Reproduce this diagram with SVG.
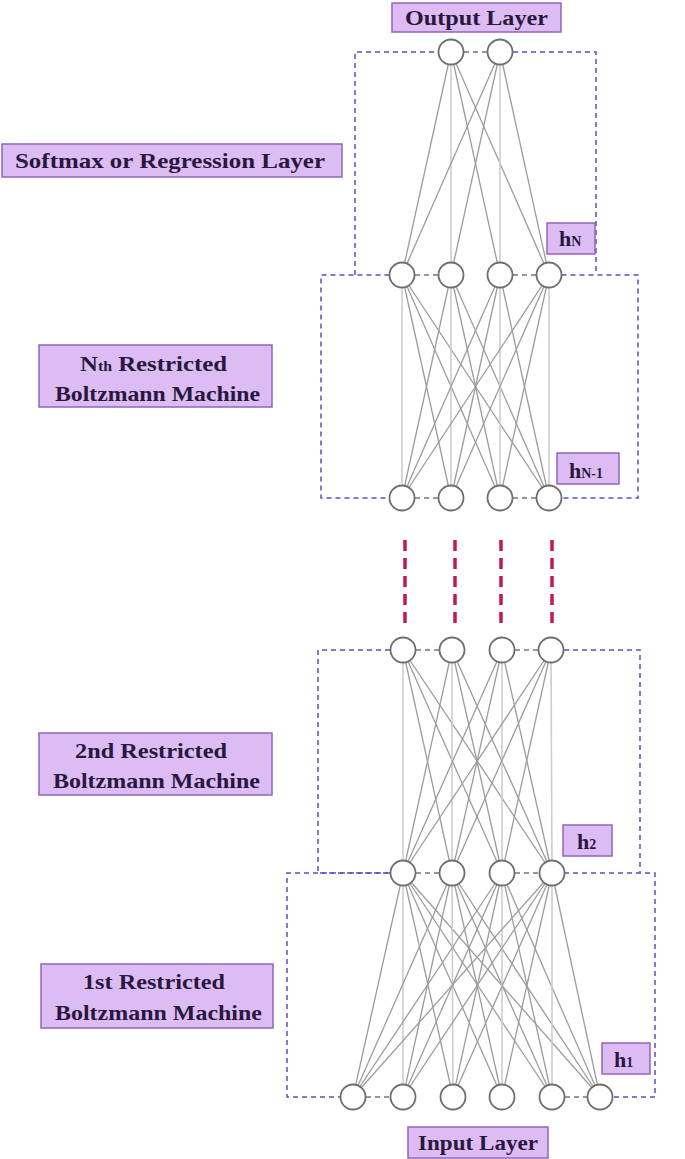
<svg xmlns="http://www.w3.org/2000/svg" width="685" height="1159" viewBox="0 0 685 1159">
<style>
.bg{fill:#ffffff}
.e{stroke:#9c9c9c;stroke-width:1.3;fill:none}
.v{stroke:#cdcdcd;stroke-width:1.6;fill:none}
.nd{fill:#ffffff;stroke:#6e6e6e;stroke-width:1.8}
.nl{stroke:#777777;stroke-width:1.3;stroke-dasharray:5,4;fill:none}
.bx{stroke:#5a4fc4;stroke-width:1.5;stroke-dasharray:5,4;fill:none}
.gap{stroke:#c2185b;stroke-width:3.5;stroke-dasharray:11,7;fill:none}
.lb{fill:#dcbcf3;stroke:#9265bb;stroke-width:1.5}
.t{font-family:"Liberation Serif","Times New Roman",serif;font-weight:bold;fill:#2a1740;font-size:22px}
.s{font-size:14px}
</style>
<rect class="bg" x="0" y="0" width="685" height="1159"/>

<g id="boxes">
<path class="bx" d="M355,275 V52 H438 M513,52 H596 V275"/>
<path class="bx" d="M389.5,275 H321 V498 H389.5 M561.5,275 H638 V498 H561.5"/>
<path class="bx" d="M390,650 H318 V873 H390 M564,650 H640 V873"/>
<path class="bx" d="M390,873 H287 V1097 H340.5 M564,873 H655 V1097 H612.5"/>
</g>

<g id="connectors">
<!-- output -> hN -->
<line class="e" x1="451" y1="52" x2="402" y2="275"/>
<line class="v" x1="451" y1="52" x2="451" y2="275"/>
<line class="e" x1="451" y1="52" x2="500" y2="275"/>
<line class="e" x1="451" y1="52" x2="549" y2="275"/>
<line class="e" x1="500" y1="52" x2="402" y2="275"/>
<line class="e" x1="500" y1="52" x2="451" y2="275"/>
<line class="v" x1="500" y1="52" x2="500" y2="275"/>
<line class="e" x1="500" y1="52" x2="549" y2="275"/>
<!-- hN -> hN-1 -->
<line class="v" x1="402" y1="275" x2="402" y2="498"/>
<line class="e" x1="402" y1="275" x2="451" y2="498"/>
<line class="e" x1="402" y1="275" x2="500" y2="498"/>
<line class="e" x1="402" y1="275" x2="549" y2="498"/>
<line class="e" x1="451" y1="275" x2="402" y2="498"/>
<line class="v" x1="451" y1="275" x2="451" y2="498"/>
<line class="e" x1="451" y1="275" x2="500" y2="498"/>
<line class="e" x1="451" y1="275" x2="549" y2="498"/>
<line class="e" x1="500" y1="275" x2="402" y2="498"/>
<line class="e" x1="500" y1="275" x2="451" y2="498"/>
<line class="v" x1="500" y1="275" x2="500" y2="498"/>
<line class="e" x1="500" y1="275" x2="549" y2="498"/>
<line class="e" x1="549" y1="275" x2="402" y2="498"/>
<line class="e" x1="549" y1="275" x2="451" y2="498"/>
<line class="e" x1="549" y1="275" x2="500" y2="498"/>
<line class="v" x1="549" y1="275" x2="549" y2="498"/>
<!-- gap -->
<line class="gap" x1="405" y1="540" x2="405" y2="624"/>
<line class="gap" x1="455" y1="540" x2="455" y2="624"/>
<line class="gap" x1="501" y1="540" x2="501" y2="624"/>
<line class="gap" x1="552" y1="540" x2="552" y2="624"/>
<!-- h3 -> h2 -->
<line class="v" x1="403" y1="650" x2="403" y2="873"/>
<line class="e" x1="403" y1="650" x2="452" y2="873"/>
<line class="e" x1="403" y1="650" x2="502" y2="873"/>
<line class="e" x1="403" y1="650" x2="552" y2="873"/>
<line class="e" x1="452" y1="650" x2="403" y2="873"/>
<line class="v" x1="452" y1="650" x2="452" y2="873"/>
<line class="e" x1="452" y1="650" x2="502" y2="873"/>
<line class="e" x1="452" y1="650" x2="552" y2="873"/>
<line class="e" x1="502" y1="650" x2="403" y2="873"/>
<line class="e" x1="502" y1="650" x2="452" y2="873"/>
<line class="v" x1="502" y1="650" x2="502" y2="873"/>
<line class="e" x1="502" y1="650" x2="552" y2="873"/>
<line class="e" x1="551" y1="650" x2="403" y2="873"/>
<line class="e" x1="551" y1="650" x2="452" y2="873"/>
<line class="e" x1="551" y1="650" x2="502" y2="873"/>
<line class="v" x1="551" y1="650" x2="552" y2="873"/>
<!-- h2 -> input -->
<line class="e" x1="403" y1="873" x2="353" y2="1097"/>
<line class="v" x1="403" y1="873" x2="403" y2="1097"/>
<line class="e" x1="403" y1="873" x2="453" y2="1097"/>
<line class="e" x1="403" y1="873" x2="502" y2="1097"/>
<line class="e" x1="403" y1="873" x2="552" y2="1097"/>
<line class="e" x1="403" y1="873" x2="600" y2="1097"/>
<line class="e" x1="452" y1="873" x2="353" y2="1097"/>
<line class="e" x1="452" y1="873" x2="403" y2="1097"/>
<line class="v" x1="452" y1="873" x2="453" y2="1097"/>
<line class="e" x1="452" y1="873" x2="502" y2="1097"/>
<line class="e" x1="452" y1="873" x2="552" y2="1097"/>
<line class="e" x1="452" y1="873" x2="600" y2="1097"/>
<line class="e" x1="502" y1="873" x2="353" y2="1097"/>
<line class="e" x1="502" y1="873" x2="403" y2="1097"/>
<line class="e" x1="502" y1="873" x2="453" y2="1097"/>
<line class="v" x1="502" y1="873" x2="502" y2="1097"/>
<line class="e" x1="502" y1="873" x2="552" y2="1097"/>
<line class="e" x1="502" y1="873" x2="600" y2="1097"/>
<line class="e" x1="552" y1="873" x2="353" y2="1097"/>
<line class="e" x1="552" y1="873" x2="403" y2="1097"/>
<line class="e" x1="552" y1="873" x2="453" y2="1097"/>
<line class="e" x1="552" y1="873" x2="502" y2="1097"/>
<line class="v" x1="552" y1="873" x2="552" y2="1097"/>
<line class="e" x1="552" y1="873" x2="600" y2="1097"/>
<!-- in-layer dashes -->
<line class="nl" x1="464" y1="52" x2="487" y2="52"/>
<line class="nl" x1="415" y1="275" x2="438" y2="275"/>
<line class="nl" x1="513" y1="275" x2="536" y2="275"/>
<line class="nl" x1="415" y1="498" x2="438" y2="498"/>
<line class="nl" x1="513" y1="498" x2="536" y2="498"/>
<line class="nl" x1="416" y1="650" x2="439" y2="650"/>
<line class="nl" x1="515" y1="650" x2="538" y2="650"/>
<line class="nl" x1="416" y1="873" x2="439" y2="873"/>
<line class="nl" x1="515" y1="873" x2="539" y2="873"/>
<line class="nl" x1="366" y1="1097" x2="390" y2="1097"/>
<line class="nl" x1="565" y1="1097" x2="587" y2="1097"/>
</g>

<g id="output-layer">
<circle class="nd" cx="451" cy="52" r="12.5"/>
<circle class="nd" cx="500" cy="52" r="12.5"/>
</g>
<g id="hN-layer">
<circle class="nd" cx="402" cy="275" r="12.5"/>
<circle class="nd" cx="451" cy="275" r="12.5"/>
<circle class="nd" cx="500" cy="275" r="12.5"/>
<circle class="nd" cx="549" cy="275" r="12.5"/>
</g>
<g id="hN-1-layer">
<circle class="nd" cx="402" cy="498" r="12.5"/>
<circle class="nd" cx="451" cy="498" r="12.5"/>
<circle class="nd" cx="500" cy="498" r="12.5"/>
<circle class="nd" cx="549" cy="498" r="12.5"/>
</g>
<g id="h3-layer">
<circle class="nd" cx="403" cy="650" r="12.5"/>
<circle class="nd" cx="452" cy="650" r="12.5"/>
<circle class="nd" cx="502" cy="650" r="12.5"/>
<circle class="nd" cx="551" cy="650" r="12.5"/>
</g>
<g id="h2-layer">
<circle class="nd" cx="403" cy="873" r="12.5"/>
<circle class="nd" cx="452" cy="873" r="12.5"/>
<circle class="nd" cx="502" cy="873" r="12.5"/>
<circle class="nd" cx="552" cy="873" r="12.5"/>
</g>
<g id="input-layer">
<circle class="nd" cx="353" cy="1097" r="12.5"/>
<circle class="nd" cx="403" cy="1097" r="12.5"/>
<circle class="nd" cx="453" cy="1097" r="12.5"/>
<circle class="nd" cx="502" cy="1097" r="12.5"/>
<circle class="nd" cx="552" cy="1097" r="12.5"/>
<circle class="nd" cx="600" cy="1097" r="12.5"/>
</g>

<g id="label-output">
<rect class="lb" x="392" y="3" width="169" height="29"/>
<text class="t" x="405" y="25" textLength="143" lengthAdjust="spacingAndGlyphs">Output Layer</text>
</g>
<g id="label-softmax">
<rect class="lb" x="2" y="144" width="340" height="33"/>
<text class="t" x="15" y="168" textLength="310" lengthAdjust="spacingAndGlyphs">Softmax or Regression  Layer</text>
</g>
<g id="label-hN">
<rect class="lb" x="547" y="223" width="48" height="31"/>
<text class="t" x="559" y="246">h<tspan class="s">N</tspan></text>
</g>
<g id="label-rbmN">
<rect class="lb" x="39" y="345" width="233" height="62"/>
<text class="t" x="80" y="371" textLength="147" lengthAdjust="spacingAndGlyphs">N<tspan class="s">th</tspan> Restricted</text>
<text class="t" x="55" y="401" textLength="205" lengthAdjust="spacingAndGlyphs">Boltzmann Machine</text>
</g>
<g id="label-hN-1">
<rect class="lb" x="557" y="453" width="62" height="31"/>
<text class="t" x="569" y="478">h<tspan class="s">N-1</tspan></text>
</g>
<g id="label-rbm2">
<rect class="lb" x="39" y="733" width="233" height="62"/>
<text class="t" x="75" y="758" textLength="152" lengthAdjust="spacingAndGlyphs">2nd Restricted</text>
<text class="t" x="53" y="788" textLength="207" lengthAdjust="spacingAndGlyphs">Boltzmann Machine</text>
</g>
<g id="label-h2">
<rect class="lb" x="563" y="825" width="49" height="31"/>
<text class="t" x="577" y="849">h<tspan class="s">2</tspan></text>
</g>
<g id="label-rbm1">
<rect class="lb" x="41" y="964" width="232" height="64"/>
<text class="t" x="83" y="989" textLength="142" lengthAdjust="spacingAndGlyphs">1st Restricted</text>
<text class="t" x="55" y="1020" textLength="207" lengthAdjust="spacingAndGlyphs">Boltzmann Machine</text>
</g>
<g id="label-h1">
<rect class="lb" x="602" y="1043" width="48" height="31"/>
<text class="t" x="614" y="1067">h<tspan class="s">1</tspan></text>
</g>
<g id="label-input">
<rect class="lb" x="408" y="1127" width="140" height="31"/>
<text class="t" x="418" y="1150" textLength="120" lengthAdjust="spacingAndGlyphs">Input Layer</text>
</g>
</svg>
